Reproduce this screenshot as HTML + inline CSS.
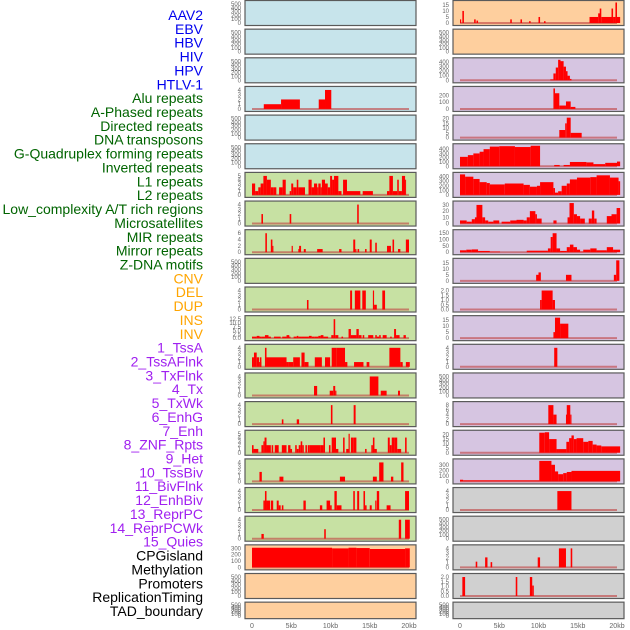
<!DOCTYPE html>
<html><head><meta charset="utf-8"><style>
body{margin:0;background:#fff}
svg{display:block;font-family:"Liberation Sans",sans-serif}
</style></head><body>
<svg id="chart" width="630" height="630" viewBox="0 0 630 630"></svg>
<script>
// ---- track labels ----
const trackLabels = ["AAV2","EBV","HBV","HIV","HPV","HTLV-1","Alu repeats","A-Phased repeats","Directed repeats","DNA transposons","G-Quadruplex forming repeats","Inverted repeats","L1 repeats","L2 repeats","Low_complexity A/T rich regions","Microsatellites","MIR repeats","Mirror repeats","Z-DNA motifs","CNV","DEL","DUP","INS","INV","1_TssA","2_TssAFlnk","3_TxFlnk","4_Tx","5_TxWk","6_EnhG","7_Enh","8_ZNF_Rpts","9_Het","10_TssBiv","11_BivFlnk","12_EnhBiv","13_ReprPC","14_ReprPCWk","15_Quies","CPGisland","Methylation","Promoters","ReplicationTiming","TAD_boundary"];
const labelGroups = [6,13,5,15,5];
const xTicks = [0,5,10,15,20];
const xTickLabels = ["0","5kb","10kb","15kb","20kb"];
// ---- series data: [startKb, endKb, value] ----
const R0=[[0,0.15,3],[0.3,0.5,10],[1.8,2.0,3],[2.1,2.3,2],[6.4,6.6,3],[7.7,7.9,3],[8.8,9.0,1.5],[10.0,10.2,5],[10.7,10.9,1.5],[16.5,17.6,5],[17.6,17.9,8],[17.8,18.0,12],[18.0,19.3,5],[19.3,19.5,12],[19.5,19.8,5],[19.8,20.0,17],[20.0,20.4,5]];
const R2=[[11.5,11.9,20],[11.9,12.2,150],[12.2,12.5,280],[12.5,12.8,450],[12.8,13.2,420],[13.2,13.5,300],[13.5,13.7,200],[13.7,14.0,100],[14.0,14.2,30]];
const L3=[[1.5,3.7,1],[3.7,6.1,2],[8.5,9.3,2],[9.3,10.1,4]];
const R3=[[11.9,12.1,300],[12.1,12.65,230],[12.65,13.5,50],[13.5,14.1,110],[14.1,14.7,30]];
const R4=[[12.65,13.4,8],[13.4,13.6,15],[13.6,14.1,21],[14.1,15.5,5]];
const R5=[[0,1.0,220],[1.0,1.7,260],[1.7,2.5,300],[2.5,3.0,340],[3.0,3.8,400],[3.8,5.0,460],[5.0,7.0,470],[7.0,9.0,450],[9.0,10.2,480],[12.0,12.7,30],[13.2,14.0,30],[14.0,16.1,100],[16.1,17.0,90],[17.0,18.5,50],[18.5,20.0,80],[20.0,20.4,110]];
const L6=[[0,0.4,3],[0.4,0.8,1],[0.8,1.1,2],[1.1,1.45,3],[1.45,1.9,5],[1.9,2.4,4],[2.4,2.7,2],[2.7,3.1,2],[3.45,3.9,2],[3.9,4.3,4],[4.8,5.0,1],[5.0,5.25,3],[5.25,5.7,2],[5.7,5.9,4],[5.9,6.75,2],[7.2,7.6,4],[7.6,7.9,2],[7.9,8.3,3],[8.3,8.45,2],[8.45,8.75,3],[8.75,8.9,2],[8.9,9.3,4],[9.3,9.65,3],[9.65,9.95,2],[9.95,10.2,5],[10.2,10.45,4],[10.45,11.0,5],[11.0,11.4,1],[11.6,12.1,4],[12.1,13.8,1],[14.1,15.4,1],[17.2,17.5,1],[17.5,17.95,5],[17.95,18.5,1],[18.5,18.7,4],[18.7,19.1,1],[19.1,19.5,5],[19.5,19.6,4]];
const R6=[[0,0.65,450],[0.65,1.7,400],[1.7,2.5,350],[2.5,3.4,280],[3.4,3.8,260],[3.8,5.7,230],[5.7,8.1,250],[8.1,8.9,220],[8.9,9.8,180],[9.8,10.2,200],[10.2,11.9,280],[11.9,12.1,150],[12.1,12.5,50],[12.5,12.95,80],[12.95,13.6,200],[13.6,14.0,250],[14.0,14.9,340],[14.9,16.6,380],[16.6,17.4,390],[17.4,19.1,430],[19.1,20.2,380],[20.2,20.4,300]];
const L7=[[1.2,1.4,2],[4.8,5.0,2],[13.4,13.6,4]];
const R7=[[0,0.85,5],[0.85,1.5,3],[1.5,1.9,7],[1.9,2.1,10],[2.1,2.85,30],[2.85,3.2,10],[3.2,3.6,5],[3.6,4.25,3],[4.25,5.0,5],[5.3,6.4,3],[6.4,7.2,5],[7.2,8.1,6],[8.1,8.5,5],[8.5,8.9,10],[8.9,9.6,20],[9.6,9.8,15],[9.8,10.4,8],[11.9,12.3,5],[13.7,13.95,10],[13.95,14.5,33],[14.5,14.9,15],[14.9,15.3,12],[15.3,15.9,8],[16.4,16.8,8],[16.8,17.1,21],[17.1,17.4,8],[18.7,19.3,12],[19.3,19.95,15],[19.95,20.4,25]];
const L8=[[1.7,1.9,6],[2.4,2.6,4],[2.6,2.7,2],[5.05,5.2,2],[5.9,6.1,1],[6.0,6.25,2],[6.6,6.85,1],[8.3,9.0,1],[11.1,11.4,1],[12.9,13.15,4],[13.15,13.3,1],[13.45,13.65,1],[14.4,14.6,1],[15.0,15.25,4],[15.7,15.9,3],[17.2,17.45,2],[17.45,17.7,2],[17.9,18.1,4],[18.6,18.9,1],[19.6,20.0,4]];
const R8=[[0,0.8,15],[0.8,1.5,20],[1.5,2.3,22],[2.3,3.8,10],[3.8,5.1,5],[8.5,11.2,12],[11.2,11.55,30],[11.55,11.8,120],[11.8,12.3,150],[12.3,12.75,30],[12.75,13.6,10],[13.6,14.0,40],[14.0,14.45,60],[14.45,14.9,40],[14.9,15.3,20],[15.3,15.7,5],[15.7,16.6,20],[16.6,17.4,30],[17.4,18.7,15],[18.7,19.5,40],[19.5,20.4,20]];
const R9=[[9.7,10.0,5],[10.0,10.3,7],[13.5,14.2,5],[19.6,19.9,5],[19.9,20.3,17]];
const L10=[[7.0,7.2,2],[12.5,12.75,4],[13.1,13.8,4],[14.05,14.5,4],[15.4,15.55,4],[15.55,15.9,1],[16.6,16.95,4]];
const R10=[[10.2,10.4,1],[10.4,11.8,2],[11.8,12.1,1]];
const L11=[[0,0.6,1],[0.6,0.95,1.5],[0.95,1.25,1],[1.25,1.65,1],[1.65,2.1,2],[2.1,2.4,1],[2.8,3.65,1],[3.85,4.4,1],[4.4,4.75,2],[4.75,4.9,1],[5.3,5.7,1],[5.7,5.9,1.5],[5.9,6.3,1],[6.3,6.75,1],[6.75,7.25,1],[7.25,7.6,1.5],[7.6,8.0,1],[8.0,8.45,1],[8.45,8.75,1.5],[8.75,9.1,2],[9.1,9.7,1],[10.1,10.4,2],[10.4,10.6,12.5],[10.6,11.0,2],[11.4,11.6,1],[12.3,12.6,6],[12.6,12.8,2],[12.8,13.3,2],[13.3,13.6,6],[13.6,13.95,2],[14.1,14.3,2],[14.8,15.45,2],[15.7,15.9,2],[15.9,16.2,1],[16.2,16.4,2],[16.65,17.15,2],[17.6,17.8,1],[18.1,18.35,6],[18.35,18.8,2],[19.3,19.6,2]];
const R11=[[11.9,12.1,5],[12.1,12.75,17],[12.75,13.8,12]];
const L12=[[0,0.25,2],[0.25,0.6,3],[0.6,0.9,2],[0.9,1.2,1],[1.0,1.2,2],[1.65,1.85,4],[1.85,4.4,2],[4.4,4.6,1],[4.6,5.25,1],[5.25,6.1,2],[6.3,6.7,3],[6.7,7.2,1],[8.0,8.9,2],[9.3,9.95,2],[10.15,10.8,4],[10.8,11.85,4],[11.85,12.15,1],[13.0,14.2,1],[14.6,14.95,1],[17.5,18.9,4],[18.9,19.2,1],[19.6,20.1,1]];
const R12=[[12.0,12.4,4]];
const L13=[[7.9,8.3,2],[9.9,10.35,1],[10.35,10.6,2],[10.6,10.75,1],[15.0,16.1,4],[16.4,17.15,1],[18.6,18.85,1]];
const L14=[[3.8,4.0,1],[5.7,6.0,1],[10.05,10.25,4],[12.95,13.2,4]];
const R14=[[11.25,11.9,8],[11.9,12.3,4],[13.5,13.7,4],[13.6,14.05,8],[14.05,14.2,4]];
const L15=[[0,0.2,2],[0.2,0.8,1],[1.2,1.45,2],[1.45,1.6,3],[1.6,1.85,4],[1.85,2.4,2],[2.5,2.7,2],[2.9,3.4,2],[3.8,4.4,2],[4.6,4.9,2],[4.9,5.1,1],[5.5,5.7,2],[5.7,5.95,1],[5.95,6.2,2],[6.2,6.4,3],[6.4,6.6,2],[6.8,7.0,2],[7.1,7.3,2],[7.3,8.7,2],[8.7,9.1,2],[9.1,9.3,4],[9.8,10.0,2],[10.15,10.7,4],[10.7,11.0,1],[11.6,11.8,4],[12.0,12.3,1],[12.3,12.45,5],[12.6,12.9,4],[12.9,13.3,4],[14.4,14.6,1],[15.2,15.4,2],[15.4,15.6,4],[15.6,15.9,1],[17.3,17.55,4],[17.55,17.8,2],[17.8,18.2,4],[18.2,18.5,4],[18.5,19.0,1],[19.5,19.7,4]];
const R15=[[10.1,10.8,22],[10.8,11.35,22.5],[11.35,12.3,15],[12.3,12.55,4],[12.55,13.55,4],[13.55,13.9,12],[13.9,14.2,16],[14.2,14.5,19],[14.5,14.85,15],[14.85,15.7,16],[15.7,16.35,12],[16.35,16.9,13],[16.9,17.4,9],[17.4,18.0,8],[18.0,20.4,7]];
const L16=[[0.95,1.25,2],[3.5,4.0,1],[11.2,11.85,1],[15.4,15.9,1],[16.2,16.75,4],[17.7,18.0,1],[19.0,19.3,4]];
const R16=[[0,0.4,30],[0.4,10.1,20],[10.1,11.65,370],[11.65,12.1,300],[12.1,12.5,180],[12.5,13.15,130],[13.15,13.6,150],[13.6,14.2,170],[14.2,20.4,190]];
const L17=[[1.45,1.65,2],[1.65,1.85,4],[1.85,2.3,2],[2.4,2.7,2],[3.15,3.4,2],[3.4,3.65,1],[3.8,4.0,1],[6.55,6.85,2],[8.65,8.95,1],[9.5,9.95,2],[9.95,10.15,1],[10.5,10.8,4],[10.8,11.4,1],[12.9,13.1,4],[13.4,13.65,4],[14.2,14.4,4],[14.4,14.6,1],[15.0,15.25,1],[15.7,15.85,2],[15.9,16.2,4],[17.15,17.65,1],[19.5,20.0,4]];
const R17=[[12.4,14.2,4]];
const L18=[[1.2,1.5,1],[9.2,9.4,2],[18.7,19.0,4],[19.5,20.1,4]];
const L19=[[0,10.2,310],[10.2,12.3,300],[12.3,13.3,310],[13.3,15.0,305],[15.0,19.5,290],[19.5,20.1,300]];
const R19=[[2.0,2.2,1.2],[3.2,3.5,2.1],[3.9,4.1,1.1],[9.9,10.2,2.1],[12.6,13.5,4],[14.1,14.3,4]];
const R20=[[0.3,0.65,2],[7.1,7.3,2],[8.9,9.2,2],[9.2,9.4,1.1]];
// ---- tick sets ----
const T500=[0,100,200,300,400,500], T4=[0,1,2,3,4], T5=[0,1,2,3,4,5], T2=[0,0.5,1,1.5,2];
const leftSeries =[null,null,null,L3,null,null,L6,L7,L8,null,L10,L11,L12,L13,L14,L15,L16,L17,L18,L19,null,null];
const rightSeries=[R0,null,R2,R3,R4,R5,R6,R7,R8,R9,R10,R11,R12,null,R14,R15,R16,R17,null,R19,R20,null];
const leftTicks =[T500,T500,T500,T4,T500,T500,T5,T4,[0,2,4,6],T500,T4,[0,2.5,5,7.5,10,12.5],T4,T4,T4,T5,T4,T4,T4,[0,100,200,300],T500,T500];
const rightTicks=[[0,5,10,15],T500,[0,100,200,300,400],[0,100,200],[0,5,10,15,20],[0,100,200,300,400],[0,100,200,300,400],[0,10,20,30],[0,50,100,150],[0,5,10,15],T2,[0,5,10,15],T4,T500,[0,2,4,6,8],[0,5,10,15,20],[0,100,200,300],T4,T500,T4,T2,T500];

const svg=document.getElementById('chart');
const NS='http://www.w3.org/2000/svg';
function mk(tag,attrs,parent){const e=document.createElementNS(NS,tag);for(const k in attrs)e.setAttribute(k,attrs[k]);(parent||svg).appendChild(e);return e;}
const groupColors=['#0000ee','#006400','#ffa500','#a020f0','#000000'];
let gi=0,cnt=0;
trackLabels.forEach((t,i)=>{
  while(cnt>=labelGroups[gi]){cnt-=labelGroups[gi];gi++;}
  cnt++;
  const e=mk('text',{x:203,y:15+i*13.86+5,'text-anchor':'end','font-size':'14',fill:groupColors[gi]});
  e.textContent=t;
  
  
});
const cols=[{x0:245,x1:416,d0:252,series:leftSeries,ticks:leftTicks,side:'left'},{x0:453,x1:624,d0:460,series:rightSeries,ticks:rightTicks,side:'right'}];
const kbw=7.85;
function bg(side,i){
  if(side==='left') return i<6?'#c7e4eb':(i<19?'#c7e1a3':'#fecf9e');
  return i<2?'#fecf9e':(i<17?'#d6c5e1':'#d0d0d0');
}
cols.forEach(c=>{
  const xs=kb=>c.d0+kb*kbw;
  for(let i=0;i<22;i++){
    const top=0.5+i*28.65, h=i===21?16.5:25;
    const g=mk('g',{});
    
    
    mk('rect',{x:c.x0,y:top,width:c.x1-c.x0,height:h,fill:bg(c.side,i),stroke:'#5a5a5a','stroke-width':1.2},g);
    const ticks=c.ticks[i], data=c.series[i];
    const lastT=ticks[ticks.length-1];
    let maxV=lastT*1.08; if(data) data.forEach(d=>{if(d[2]>maxV)maxV=d[2];});
    const yb=top+h-2.5, yt=top+2;
    const ys=v=>yb-v/maxV*(yb-yt);
    const dec=ticks.some(t=>t%1!==0);
    ticks.forEach(t=>{
      const e=mk('text',{x:c.x0-4,y:ys(t)+2,'text-anchor':'end','font-size':'6',fill:'#666'},g);
      e.textContent=dec?t.toFixed(1):String(t);
      
      
    });
    if(data){
      mk('line',{x1:xs(0),x2:xs(20),y1:yb,y2:yb,stroke:'#c04040','stroke-opacity':0.6,'stroke-width':2},g);
      data.forEach(d=>{
        const r=mk('rect',{x:xs(d[0]),y:ys(d[2]),width:Math.max(1,(d[1]-d[0])*kbw),height:yb-ys(d[2]),fill:'#ff0000'},g);
        
        
      });
    }
  }
  xTicks.forEach((k,j)=>{
    const e=mk('text',{x:xs(k),y:628,'text-anchor':'middle','font-size':'7',fill:'#666'});
    e.textContent=xTickLabels[j];
    
    
  });
});
</script>
</body></html>
